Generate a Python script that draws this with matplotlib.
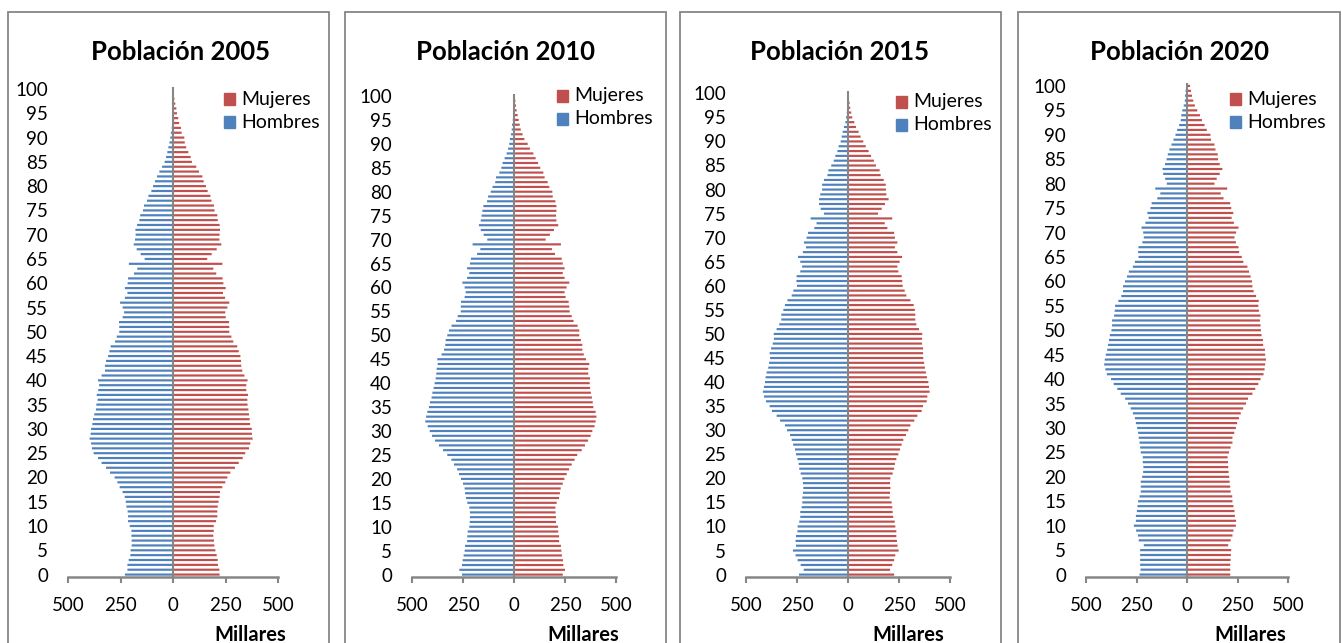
import matplotlib
matplotlib.use("Agg")
import matplotlib.pyplot as plt
from matplotlib.patches import Rectangle

# ---------------- data (thousands of people, ages 0..100) ----------------
ages = list(range(101))
years = ["2005", "2010", "2015", "2020"]
x_ticks = [-500, -250, 0, 250, 500]
x_ticklabels = ["500", "250", "0", "250", "500"]
y_ticks = list(range(0, 101, 5))
legend_labels = ["Mujeres", "Hombres"]
axis_label = "Millares"

hombres_2005 = [229, 217, 217, 211, 203, 202, 197, 197, 198, 198,
                206, 214, 214, 216, 222, 225, 230, 240, 254, 265,
                278, 300, 319, 340, 357, 378, 386, 390, 397, 392,
                390, 384, 381, 375, 367, 365, 359, 363, 356, 352,
                357, 340, 324, 324, 319, 309, 303, 297, 276, 268,
                256, 256, 257, 240, 233, 240, 252, 229, 217, 229,
                216, 214, 186, 170, 210, 135, 154, 173, 187, 181,
                178, 179, 171, 160, 156, 143, 138, 124, 117, 103,
                95, 86, 76, 65, 52, 40, 33, 27, 22, 17,
                13, 10, 6, 4, 3, 2, 1, 1, 0, 0, 0]
mujeres_2005 = [222, 221, 214, 213, 208, 202, 197, 195, 192, 194,
                194, 205, 211, 211, 213, 217, 222, 224, 235, 249,
                259, 273, 295, 313, 332, 344, 362, 368, 379, 376,
                375, 367, 365, 362, 359, 355, 354, 357, 349, 349,
                355, 340, 330, 325, 324, 321, 313, 306, 287, 278,
                268, 268, 267, 251, 249, 259, 268, 248, 238, 251,
                240, 236, 206, 192, 235, 163, 184, 208, 230, 221,
                222, 224, 222, 213, 211, 198, 195, 183, 178, 165,
                157, 146, 140, 124, 111, 90, 84, 73, 63, 56,
                54, 41, 38, 29, 25, 19, 16, 11, 7, 4, 3]

hombres_2010 = [255, 268, 255, 252, 247, 242, 240, 230, 229, 227,
                219, 217, 216, 216, 219, 229, 235, 240, 242, 250,
                260, 270, 279, 294, 307, 327, 348, 368, 387, 402,
                413, 423, 435, 431, 425, 417, 412, 404, 400, 394,
                389, 384, 381, 379, 374, 376, 355, 343, 337, 335,
                327, 319, 306, 284, 276, 261, 261, 260, 242, 237,
                242, 253, 230, 219, 230, 216, 211, 181, 165, 203,
                131, 149, 163, 172, 163, 159, 155, 150, 132, 127,
                114, 105, 92, 88, 72, 62, 56, 46, 36, 29,
                23, 20, 15, 11, 10, 6, 4, 3, 2, 1, 0]
mujeres_2010 = [239, 250, 242, 240, 235, 232, 230, 221, 221, 217,
                216, 206, 206, 204, 203, 209, 221, 225, 229, 239,
                247, 258, 270, 283, 297, 310, 332, 348, 363, 376,
                384, 395, 400, 404, 400, 389, 386, 382, 377, 373,
                371, 373, 364, 364, 369, 353, 342, 335, 335, 328,
                320, 320, 312, 292, 283, 273, 271, 268, 253, 248,
                258, 271, 248, 239, 248, 239, 234, 201, 186, 230,
                155, 176, 196, 217, 208, 206, 208, 208, 203, 190,
                188, 173, 165, 150, 144, 129, 118, 106, 95, 78,
                67, 51, 42, 33, 28, 23, 18, 13, 10, 7, 3]

hombres_2015 = [240, 217, 232, 247, 257, 270, 255, 257, 255, 248,
                247, 239, 234, 234, 227, 224, 224, 221, 219, 221,
                224, 232, 239, 242, 248, 255, 260, 269, 276, 284,
                299, 309, 333, 350, 373, 384, 402, 412, 417, 412,
                407, 404, 399, 391, 387, 382, 384, 377, 369, 363,
                364, 350, 337, 327, 327, 317, 309, 297, 276, 268,
                250, 253, 252, 234, 225, 234, 245, 221, 206, 216,
                203, 196, 165, 154, 183, 118, 134, 142, 142, 136,
                127, 127, 118, 101, 96, 82, 70, 62, 52, 46,
                36, 31, 26, 20, 13, 10, 6, 4, 2, 1, 0]
mujeres_2015 = [226, 206, 217, 226, 232, 248, 243, 240, 237, 237,
                232, 229, 222, 219, 217, 214, 204, 206, 208, 206,
                208, 219, 226, 230, 237, 247, 255, 263, 271, 284,
                296, 306, 325, 340, 361, 368, 386, 389, 400, 397,
                394, 387, 382, 377, 373, 369, 368, 368, 363, 363,
                364, 348, 335, 330, 330, 328, 322, 306, 286, 278,
                268, 266, 263, 247, 242, 253, 265, 242, 230, 242,
                230, 226, 193, 180, 217, 147, 165, 181, 199, 188,
                186, 185, 175, 160, 155, 137, 127, 113, 101, 87,
                75, 62, 52, 39, 31, 21, 16, 11, 8, 5, 3]

hombres_2020 = [235, 230, 232, 232, 232, 232, 214, 239, 243, 252,
                263, 253, 253, 248, 245, 242, 235, 229, 229, 229,
                222, 217, 216, 219, 219, 229, 232, 235, 239, 242,
                247, 253, 258, 268, 279, 292, 306, 328, 345, 363,
                376, 397, 404, 410, 407, 402, 395, 391, 386, 382,
                374, 371, 371, 361, 358, 356, 340, 325, 317, 317,
                307, 297, 288, 268, 258, 240, 242, 240, 221, 214,
                217, 225, 206, 190, 196, 181, 175, 147, 132, 157,
                100, 108, 118, 121, 109, 101, 95, 87, 77, 67,
                57, 49, 39, 31, 28, 23, 16, 11, 10, 7, 5]
mujeres_2020 = [214, 214, 214, 216, 217, 219, 204, 216, 225, 230,
                242, 243, 237, 235, 230, 225, 224, 216, 214, 211,
                209, 206, 204, 203, 201, 208, 216, 225, 225, 234,
                242, 248, 257, 266, 278, 292, 302, 324, 338, 353,
                364, 379, 384, 387, 391, 387, 386, 377, 376, 369,
                366, 364, 361, 364, 356, 353, 355, 342, 330, 324,
                322, 315, 307, 299, 279, 271, 258, 255, 242, 235,
                243, 255, 232, 221, 229, 219, 214, 181, 167, 199,
                136, 147, 162, 175, 162, 154, 152, 141, 136, 119,
                116, 98, 87, 74, 64, 51, 39, 31, 25, 20, 15]

hombres = [hombres_2005, hombres_2010, hombres_2015, hombres_2020]
mujeres = [mujeres_2005, mujeres_2010, mujeres_2015, mujeres_2020]

# ---------------- style ----------------
MEN = "#4F81BD"
WOMEN = "#C0504D"
GREY = "#868686"
FONT = "Lato"

W, H = 1342, 643
fig = plt.figure(figsize=(W / 100, H / 100), dpi=100)


def fx(px):
    return px / W


def fy(py):
    return 1 - py / H


layout = [
    dict(box=(8, 329), left=68, right=278, top=86.6, tx=181, lx=224, ly=99, mx=250),
    dict(box=(345, 666), left=412, right=616, top=93.6, tx=506, lx=557, ly=96, mx=583),
    dict(box=(680, 1001), left=746, right=950, top=90.9, tx=840, lx=896, ly=102, mx=908),
    dict(box=(1018, 1340), left=1086, right=1288, top=83.5, tx=1179, lx=1230, ly=99, mx=1250),
]
bottom_px = 577

for i, L in enumerate(layout):
    x0, x1 = L["box"]
    fig.patches.append(Rectangle((fx(x0), fy(700)), fx(x1) - fx(x0), fy(12) - fy(700),
                                 transform=fig.transFigure, fill=False,
                                 edgecolor=GREY, linewidth=1.3, zorder=0))

    ax = fig.add_axes([fx(L["left"]), fy(bottom_px), fx(L["right"] - L["left"]),
                       (bottom_px - L["top"]) / H])
    men_vals = [-v for v in hombres[i]]
    b1 = ax.barh(ages, men_vals, height=0.45, color=MEN, linewidth=0)
    b2 = ax.barh(ages, mujeres[i], height=0.45, color=WOMEN, linewidth=0)
    for p in list(b1) + list(b2):
        p.set_snap(False)
    ax.axvline(0, color=GREY, linewidth=1.5, zorder=3)

    ax.set_xlim(-500, 500)
    ax.set_ylim(-0.5, 100.5)
    ax.set_xticks(x_ticks)
    ax.set_xticklabels(x_ticklabels, fontsize=13.5, family=FONT)
    ax.set_yticks(y_ticks)
    ax.set_yticklabels([str(t) for t in y_ticks], fontsize=13.5, family=FONT)
    ax.tick_params(axis="y", length=0, pad=14.4)
    ax.tick_params(axis="x", length=4.5, width=1.5, color=GREY, pad=10, direction="out")
    for s in ["top", "right", "left"]:
        ax.spines[s].set_visible(False)
    ax.spines["bottom"].set_color(GREY)
    ax.spines["bottom"].set_linewidth(1.8)
    ax.set_facecolor("none")

    fig.text(fx(L["tx"]), fy(52), f"Población {years[i]}", ha="center", va="center",
             fontsize=18.5, fontweight="bold", family=FONT)

    for j, (lab, col) in enumerate(zip(legend_labels, [WOMEN, MEN])):
        yc = L["ly"] + j * 23
        fig.patches.append(Rectangle((fx(L["lx"]), fy(yc + 5.5)), fx(11), 11 / H,
                                     transform=fig.transFigure, color=col))
        fig.text(fx(L["lx"] + 17), fy(yc), lab, ha="left", va="center",
                 fontsize=14, family=FONT)

    fig.text(fx(L["mx"]), fy(641), axis_label, ha="center", va="baseline",
             fontsize=14.5, fontweight="bold", family=FONT)

fig.savefig("out.png", dpi=100, facecolor="white")
